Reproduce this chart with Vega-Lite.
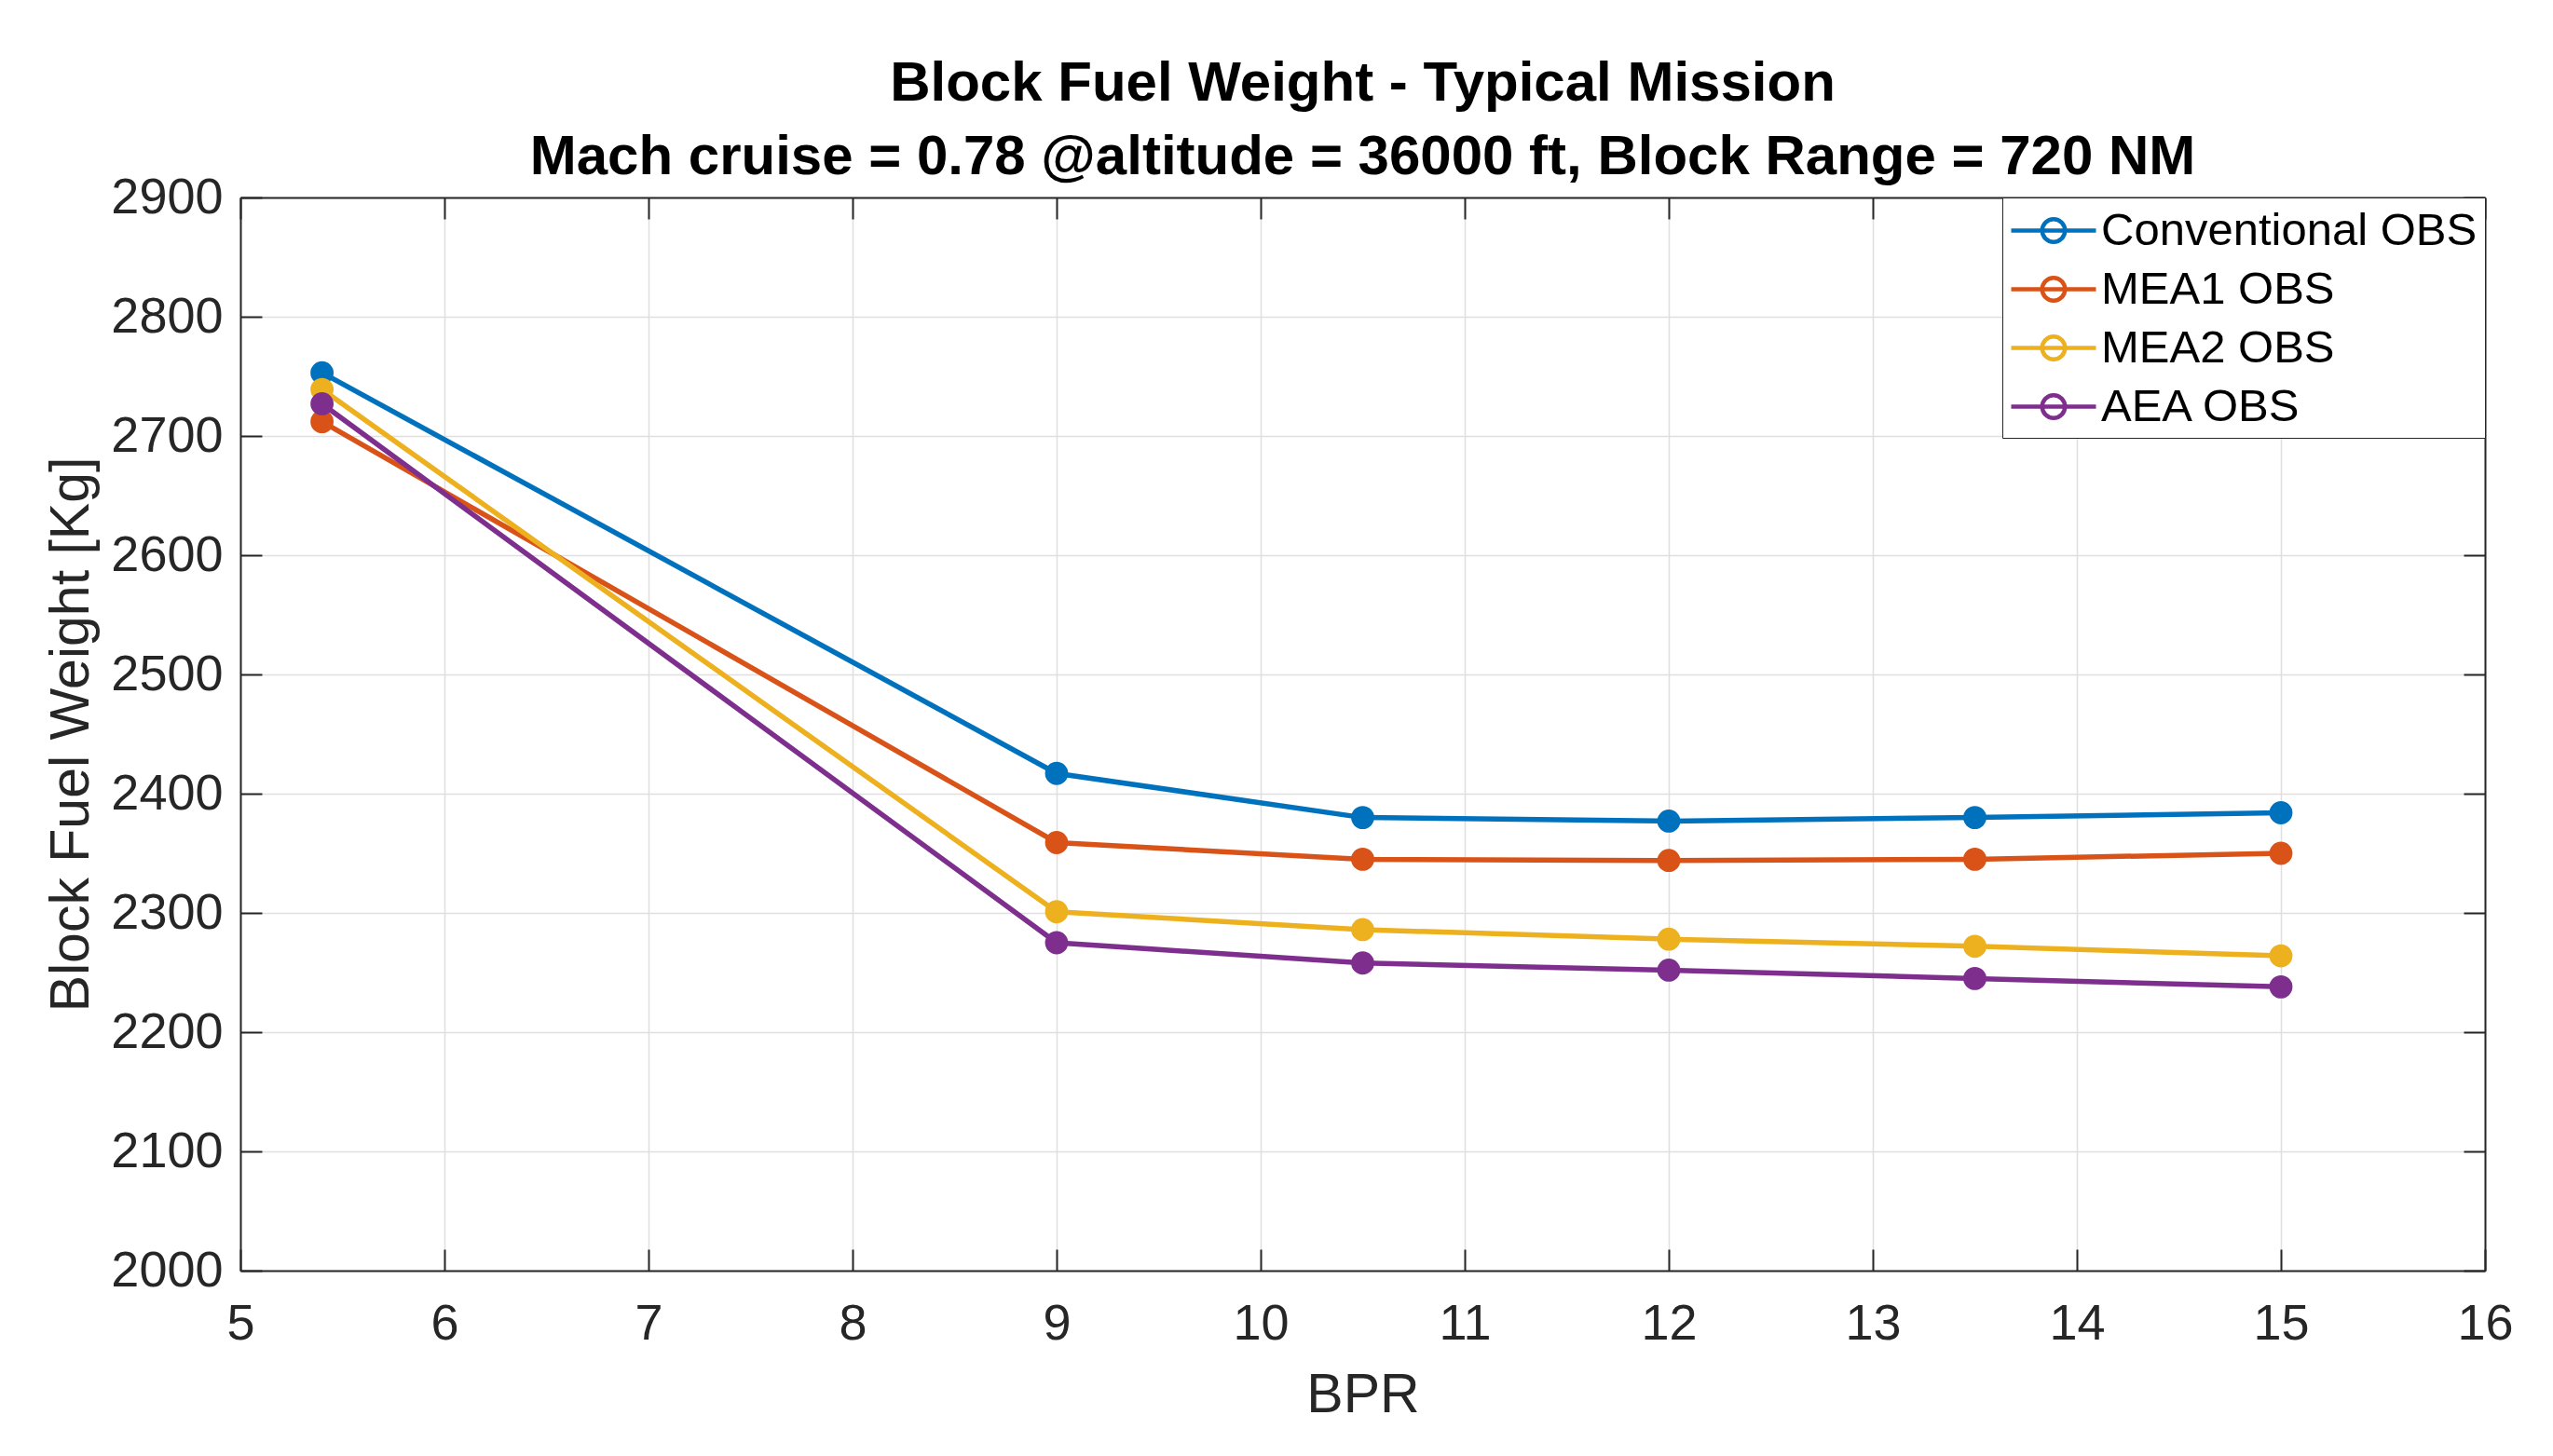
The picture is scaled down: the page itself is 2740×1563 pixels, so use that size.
{
  "$schema": "https://vega.github.io/schema/vega-lite/v6.json",
  "width": 2409,
  "height": 1152,
  "autosize": {"type": "none"},
  "padding": {"left": 258, "top": 212, "right": 73, "bottom": 199},
  "background": "white",
  "config": {
    "font": "Liberation Sans",
    "view": {"stroke": null},
    "axis": {
      "labelFont": "Liberation Sans",
      "titleFont": "Liberation Sans",
      "labelColor": "#262626",
      "titleColor": "#262626",
      "domainColor": "#262626",
      "tickColor": "#262626",
      "domainWidth": 2,
      "tickWidth": 2,
      "gridColor": "#dfdfdf",
      "gridWidth": 1.5
    }
  },
  "title": {
    "text": ["Block Fuel Weight - Typical Mission", "Mach cruise = 0.78 @altitude = 36000 ft, Block Range = 720 NM"],
    "font": "Liberation Sans",
    "fontSize": 60,
    "fontWeight": "bold",
    "color": "#000000",
    "lineHeight": 79,
    "anchor": "middle",
    "frame": "group",
    "offset": -15
  },
  "data": {
    "values": [
      {"BPR": 5.4, "Weight": 2753, "Config": "Conventional OBS"},
      {"BPR": 9, "Weight": 2417, "Config": "Conventional OBS"},
      {"BPR": 10.5, "Weight": 2380, "Config": "Conventional OBS"},
      {"BPR": 12, "Weight": 2377, "Config": "Conventional OBS"},
      {"BPR": 13.5, "Weight": 2380, "Config": "Conventional OBS"},
      {"BPR": 15, "Weight": 2384, "Config": "Conventional OBS"},
      {"BPR": 5.4, "Weight": 2712, "Config": "MEA1 OBS"},
      {"BPR": 9, "Weight": 2359, "Config": "MEA1 OBS"},
      {"BPR": 10.5, "Weight": 2345, "Config": "MEA1 OBS"},
      {"BPR": 12, "Weight": 2344, "Config": "MEA1 OBS"},
      {"BPR": 13.5, "Weight": 2345, "Config": "MEA1 OBS"},
      {"BPR": 15, "Weight": 2350, "Config": "MEA1 OBS"},
      {"BPR": 5.4, "Weight": 2739, "Config": "MEA2 OBS"},
      {"BPR": 9, "Weight": 2301, "Config": "MEA2 OBS"},
      {"BPR": 10.5, "Weight": 2286, "Config": "MEA2 OBS"},
      {"BPR": 12, "Weight": 2278, "Config": "MEA2 OBS"},
      {"BPR": 13.5, "Weight": 2272, "Config": "MEA2 OBS"},
      {"BPR": 15, "Weight": 2264, "Config": "MEA2 OBS"},
      {"BPR": 5.4, "Weight": 2727, "Config": "AEA OBS"},
      {"BPR": 9, "Weight": 2275, "Config": "AEA OBS"},
      {"BPR": 10.5, "Weight": 2258, "Config": "AEA OBS"},
      {"BPR": 12, "Weight": 2252, "Config": "AEA OBS"},
      {"BPR": 13.5, "Weight": 2245, "Config": "AEA OBS"},
      {"BPR": 15, "Weight": 2238, "Config": "AEA OBS"}
    ]
  },
  "layer": [
    {
      "mark": {"type": "line", "strokeWidth": 5.5},
      "encoding": {
        "x": {
          "field": "BPR", "type": "quantitative",
          "scale": {"domain": [5, 16], "nice": false, "zero": false},
          "axis": {
            "orient": "bottom", "title": "BPR", "values": [5,6,7,8,9,10,11,12,13,14,15,16],
            "grid": true, "tickSize": -23, "labelPadding": 53, "labelFontSize": 54,
            "titleFontSize": 59, "titleFontWeight": "normal", "titlePadding": 20, "labelFlush": false
          }
        },
        "y": {
          "field": "Weight", "type": "quantitative",
          "scale": {"domain": [2000, 2900], "nice": false, "zero": false},
          "axis": {
            "orient": "left", "title": "Block Fuel Weight [Kg]", "format": "d",
            "values": [2000,2100,2200,2300,2400,2500,2600,2700,2800,2900],
            "grid": true, "tickSize": -23, "labelPadding": 42, "labelFontSize": 54,
            "titleFontSize": 59, "titleFontWeight": "normal", "titlePadding": 12, "labelFlush": false
          }
        },
        "color": {
          "field": "Config", "type": "nominal",
          "scale": {
            "domain": ["Conventional OBS", "MEA1 OBS", "MEA2 OBS", "AEA OBS"],
            "range": ["#0072BD", "#D95319", "#EDB120", "#7E2F8E"]
          },
          "legend": {
            "title": null,
            "orient": "top-right",
            "offset": 0,
            "padding": 8,
            "fillColor": "white",
            "strokeColor": "#262626",
            "labelFont": "Liberation Sans",
            "labelFontSize": 49,
            "labelColor": "#000000",
            "labelOffset": 43,
            "labelLimit": 1000,
            "rowPadding": 10,
            "symbolType": "M-1.82,0H1.82M-0.49,0A0.49,0.49 0 1,1 0.49,0A0.49,0.49 0 1,1 -0.49,0",
            "symbolSize": 2500,
            "symbolStrokeWidth": 4.5,
            "symbolFillColor": "transparent",
            "encode": {"symbols": {"update": {"fill": {"value": "transparent"}, "x": {"value": 47}}}}
          }
        }
      }
    },
    {
      "mark": {"type": "circle", "size": 616, "opacity": 1},
      "encoding": {
        "x": {
          "field": "BPR", "type": "quantitative",
          "axis": {"orient": "top", "title": null, "labels": false, "grid": false, "tickSize": -23,
                   "values": [5,6,7,8,9,10,11,12,13,14,15,16]}
        },
        "y": {
          "field": "Weight", "type": "quantitative",
          "axis": {"orient": "right", "title": null, "labels": false, "grid": false, "tickSize": -23,
                   "values": [2000,2100,2200,2300,2400,2500,2600,2700,2800,2900]}
        },
        "color": {"field": "Config", "type": "nominal", "legend": null}
      }
    }
  ],
  "resolve": {"axis": {"x": "independent", "y": "independent"}, "legend": {"color": "independent"}}
}
